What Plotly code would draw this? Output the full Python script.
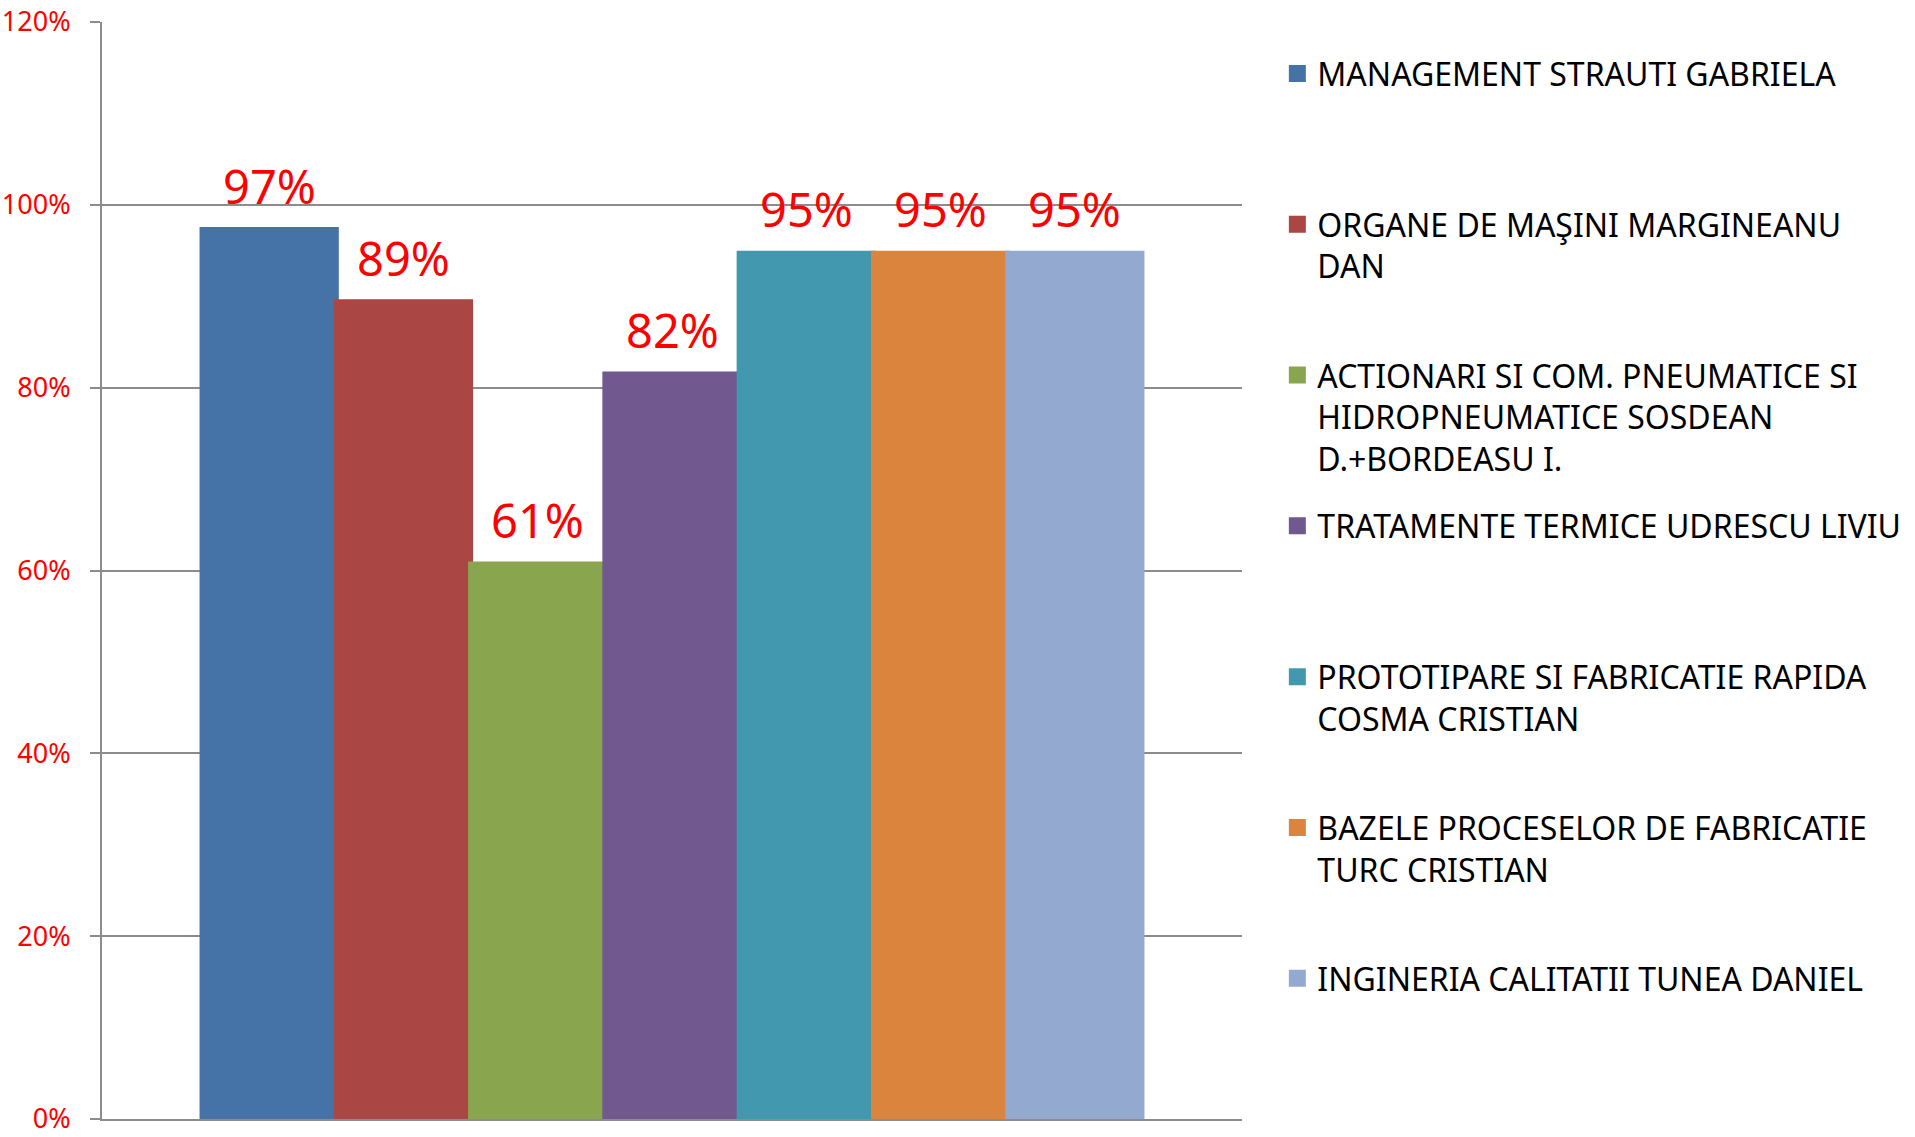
import plotly.graph_objects as go

# ---- data ----
series_labels = [
    "MANAGEMENT STRAUTI GABRIELA",
    "ORGANE DE MAŞINI MARGINEANU<br>DAN",
    "ACTIONARI SI COM. PNEUMATICE SI<br>HIDROPNEUMATICE SOSDEAN<br>D.+BORDEASU I.",
    "TRATAMENTE TERMICE UDRESCU LIVIU",
    "PROTOTIPARE SI FABRICATIE RAPIDA<br>COSMA CRISTIAN",
    "BAZELE PROCESELOR DE FABRICATIE<br>TURC CRISTIAN",
    "INGINERIA CALITATII TUNEA DANIEL",
]
values = [0.973, 0.894, 0.607, 0.815, 0.947, 0.947, 0.947]
bar_colors = ["#4572A7", "#AA4643", "#89A54E", "#71588F", "#4198AF", "#DB843D", "#93A9CF"]
y_ticks = [0, 0.2, 0.4, 0.6, 0.8, 1.0, 1.2]
y_tick_labels = ["0%", "20%", "40%", "60%", "80%", "100%", "120%"]

FONT = "Noto Sans"
fig = go.Figure()
for i, (lab, v, c) in enumerate(zip(series_labels, values, bar_colors)):
    nlines = lab.count("<br>") + 1
    name = lab + "<br> " * (3 - nlines)
    fig.add_trace(go.Bar(
        x=[i], y=[v], width=1, name=name, legendgroup=f"g{i}",
        marker=dict(color=c, line=dict(width=5, color=c)),
        hoverinfo="skip",
    ))
    fig.add_annotation(
        x=i, y=v, text=f"{v:.0%}", showarrow=False,
        xanchor="center", yanchor="middle", yshift=44,
        font=dict(color="#FF0000", size=47, family=FONT),
    )

fig.update_layout(
    width=1915, height=1137,
    margin=dict(l=102, r=673, t=22, b=18, autoexpand=False),
    paper_bgcolor="white", plot_bgcolor="white",
    barmode="overlay",
    font=dict(family=FONT),
    showlegend=True,
    legend=dict(
        x=1.031, xanchor="left", y=0.978, yanchor="top",
        font=dict(size=32, color="black", family=FONT),
        traceorder="grouped", tracegroupgap=23, valign="top",
        bgcolor="rgba(0,0,0,0)",
    ),
    xaxis=dict(range=[-1.245, 7.245], showticklabels=False, showgrid=False,
               zeroline=False, automargin=False,
               showline=True, linecolor="#8c8c8c", linewidth=2, ticks=""),
    yaxis=dict(range=[0, 1.2], tickvals=y_ticks, ticktext=y_tick_labels, automargin=False,
               tickfont=dict(color="#FF0000", size=27, family=FONT),
               ticklabeloverflow="allow",
               showgrid=True, gridcolor="#8c8c8c", gridwidth=1.5,
               zeroline=False, showline=True, linecolor="#8c8c8c", linewidth=2,
               ticks="outside", ticklen=10, tickcolor="#8c8c8c", tickwidth=1.5,
               ticklabelstandoff=14),
)
fig.write_html("out.html", config={"displayModeBar": False},
               post_script="document.body.style.margin='0';")
